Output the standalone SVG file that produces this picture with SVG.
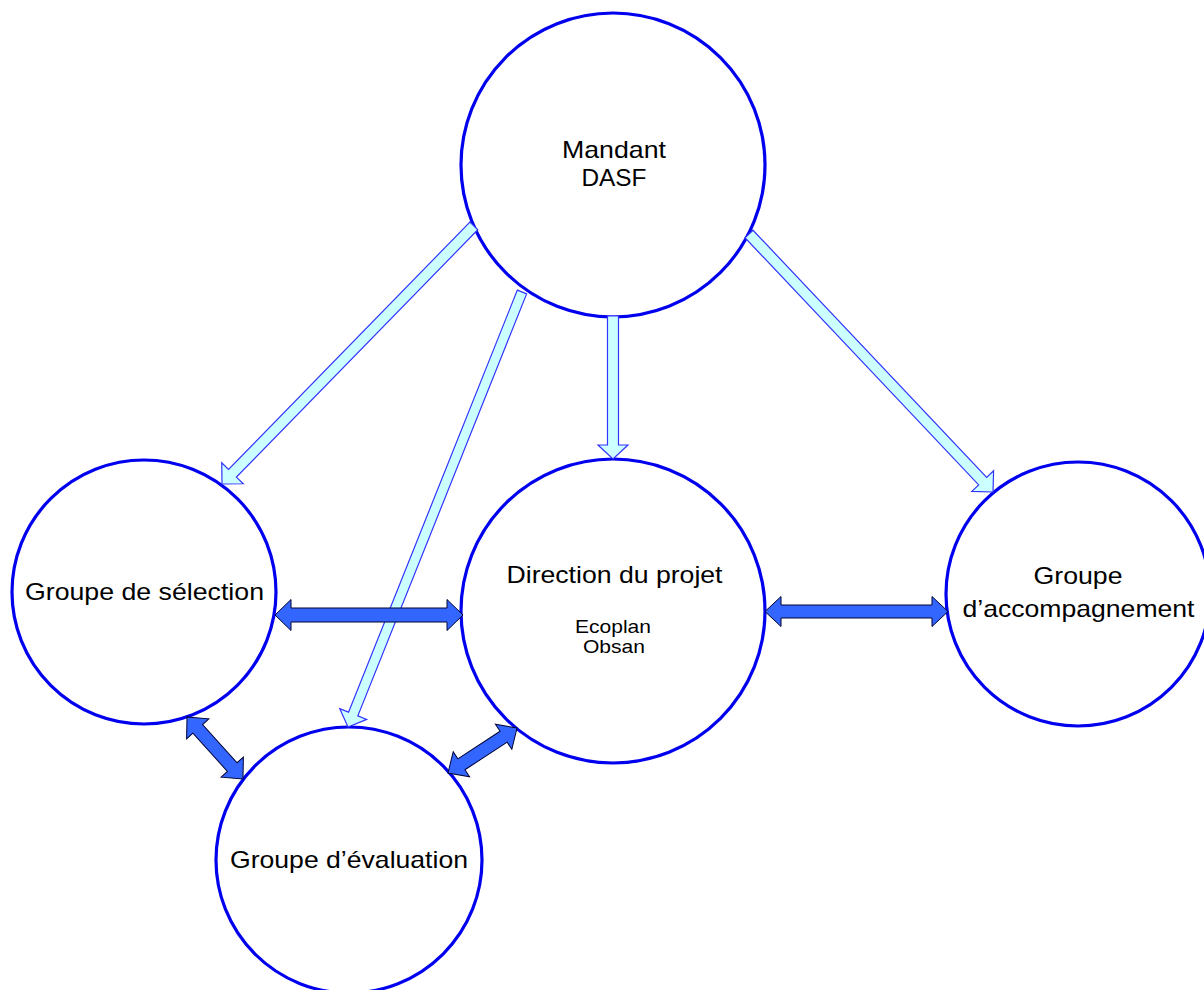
<svg xmlns="http://www.w3.org/2000/svg" width="1204" height="990" viewBox="0 0 1204 990">
<style>
.node{fill:#ffffff;stroke:#0000ee;stroke-width:3.2}
.t{font-family:"Liberation Sans",Arial,sans-serif;font-size:24px;fill:#000000;text-anchor:middle}
.s{font-family:"Liberation Sans",Arial,sans-serif;font-size:19px;fill:#000000;text-anchor:middle}
.flow{fill:#ccffff;stroke:#3333ff;stroke-width:1.2;stroke-linejoin:miter}
.dbl{fill:#3366ff;stroke:#000033;stroke-width:1;stroke-linejoin:miter}
</style>
<rect width="1204" height="990" fill="#ffffff"/>
<g id="mandant">
<circle class="node" cx="613" cy="165" r="152"/>
<text class="t" x="614" y="158" textLength="104" lengthAdjust="spacingAndGlyphs">Mandant</text>
<text class="t" x="614" y="186" textLength="65" lengthAdjust="spacingAndGlyphs">DASF</text>
</g>
<g id="selection">
<circle class="node" cx="144" cy="592" r="132"/>
<text class="t" x="144.5" y="600" textLength="239" lengthAdjust="spacingAndGlyphs">Groupe de sélection</text>
</g>
<g id="direction">
<circle class="node" cx="613" cy="611" r="152"/>
<text class="t" x="614.5" y="583" textLength="216" lengthAdjust="spacingAndGlyphs">Direction du projet</text>
<text class="s" x="613" y="633" textLength="76" lengthAdjust="spacingAndGlyphs">Ecoplan</text>
<text class="s" x="614" y="653" textLength="62" lengthAdjust="spacingAndGlyphs">Obsan</text>
</g>
<g id="accompagnement">
<circle class="node" cx="1078" cy="594" r="132"/>
<text class="t" x="1078" y="584" textLength="89" lengthAdjust="spacingAndGlyphs">Groupe</text>
<text class="t" x="1078.5" y="617" textLength="232" lengthAdjust="spacingAndGlyphs">d’accompagnement</text>
</g>
<g id="evaluation">
<circle class="node" cx="349" cy="860" r="133"/>
<text class="t" x="349" y="868" textLength="238" lengthAdjust="spacingAndGlyphs">Groupe d’évaluation</text>
</g>
<g id="connectors">
<polygon class="flow" transform="translate(222,484) rotate(134.3)" points="-360.6,-5.5 -15,-5.5 -15,-15 0,0 -15,15 -15,5.5 -360.6,5.5"/>
<polygon class="flow" transform="translate(348,727) rotate(111.8)" points="-468.5,-5 -14,-5 -14,-14.5 0,0 -14,14.5 -14,5 -468.5,5"/>
<polygon class="flow" transform="translate(613,459) rotate(90)" points="-143,-5.5 -14,-5.5 -14,-15 0,0 -14,15 -14,5.5 -143,5.5"/>
<polygon class="flow" transform="translate(993,492) rotate(46.6)" points="-355.1,-5.5 -15,-5.5 -15,-15 0,0 -15,15 -15,5.5 -355.1,5.5"/>
<polygon class="dbl" transform="translate(275,615)" points="0,0 16,-15.5 16,-7 172,-7 172,-15.5 188,0 172,15.5 172,7 16,7 16,15.5"/>
<polygon class="dbl" transform="translate(765,611.5)" points="0,0 16,-15 16,-6.5 167,-6.5 167,-15 183,0 167,15 167,6.5 16,6.5 16,15"/>
<polygon class="dbl" transform="translate(187,717) rotate(47.9)" points="0,0 16,-15 16,-6.5 67.5,-6.5 67.5,-15 83.5,0 67.5,15 67.5,6.5 16,6.5 16,15"/>
<polygon class="dbl" transform="translate(448,773) rotate(-33.1)" points="0,0 16,-15 16,-6.5 66.4,-6.5 66.4,-15 82.4,0 66.4,15 66.4,6.5 16,6.5 16,15"/>
</g>
</svg>
